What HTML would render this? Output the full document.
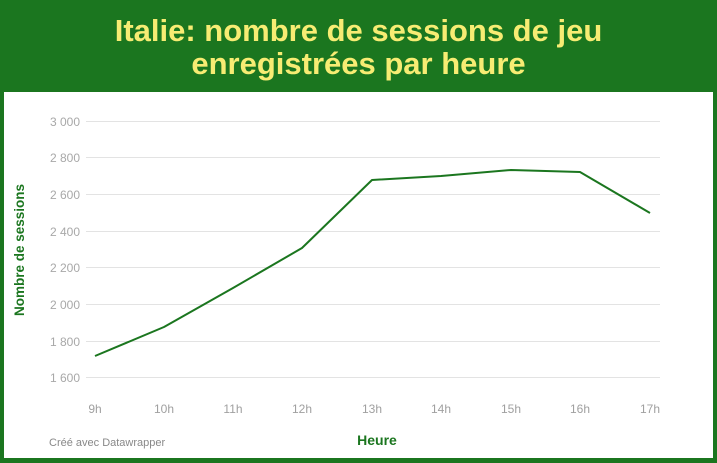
<!DOCTYPE html>
<html><head><meta charset="utf-8"><style>
html,body{margin:0;padding:0;}
body{width:717px;height:463px;background:#1b761f;position:relative;overflow:hidden;font-family:"Liberation Sans",sans-serif;}
.title{position:absolute;left:0;top:14px;width:717px;text-align:center;color:#f7ec73;font-weight:bold;font-size:31px;line-height:33px;}
.panel{position:absolute;left:4px;top:92px;width:709px;height:366px;background:#fff;}
</style></head><body>
<div class="title">Italie: nombre de sessions de jeu<br>enregistrées par heure</div>
<div class="panel"></div>
<svg width="717" height="463" style="position:absolute;left:0;top:0" font-family="Liberation Sans, sans-serif">
<g stroke="#e3e3e3" stroke-width="1">
<line x1="86" x2="660" y1="121.5" y2="121.5"/>
<line x1="86" x2="660" y1="157.5" y2="157.5"/>
<line x1="86" x2="660" y1="194.5" y2="194.5"/>
<line x1="86" x2="660" y1="231.5" y2="231.5"/>
<line x1="86" x2="660" y1="267.5" y2="267.5"/>
<line x1="86" x2="660" y1="304.5" y2="304.5"/>
<line x1="86" x2="660" y1="341.5" y2="341.5"/>
<line x1="86" x2="660" y1="377.5" y2="377.5"/>
</g>
<g fill="#a8a8a8" font-size="12" text-anchor="end">
<text x="80" y="126">3 000</text><text x="80" y="162">2 800</text><text x="80" y="199">2 600</text><text x="80" y="236">2 400</text><text x="80" y="272">2 200</text><text x="80" y="309">2 000</text><text x="80" y="346">1 800</text><text x="80" y="382">1 600</text>
</g>
<g fill="#a0a0a0" font-size="12" text-anchor="middle">
<text x="95" y="413">9h</text><text x="164" y="413">10h</text><text x="233" y="413">11h</text><text x="302" y="413">12h</text><text x="372" y="413">13h</text><text x="441" y="413">14h</text><text x="511" y="413">15h</text><text x="580" y="413">16h</text><text x="650" y="413">17h</text>
</g>
<polyline fill="none" stroke="#1b761f" stroke-width="2" stroke-linejoin="round" points="95,356 164,327 233,288 302,248 372,180 441,176 511,170 580,172 650,213"/>
<text x="24" y="250" transform="rotate(-90 24 250)" text-anchor="middle" fill="#1b761f" font-weight="bold" font-size="13.5">Nombre de sessions</text>
<text x="377" y="445" text-anchor="middle" fill="#1b761f" font-weight="bold" font-size="14">Heure</text>
<text x="49" y="446" fill="#888" font-size="11">Créé avec Datawrapper</text>
</svg>
</body></html>
